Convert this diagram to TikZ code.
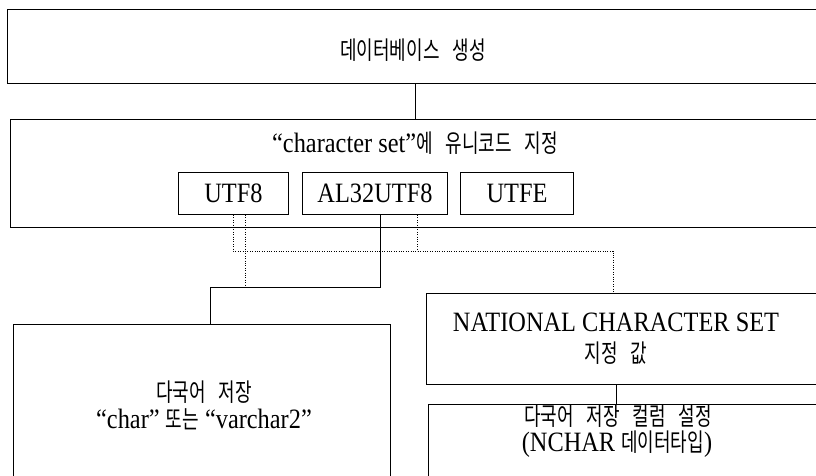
\documentclass[tikz,border=0pt]{standalone}
\usepackage{fontspec}
\setmainfont{Liberation Serif}
\newfontfamily\korfont[FakeStretch=0.72,WordSpace=3.2]{Noto Sans CJK KR}
\newfontfamily\latfont[FakeStretch=0.87]{Liberation Serif}
\newcommand\KR[1]{{\fontsize{25}{28}\selectfont\korfont #1}}
\newcommand\LT[1]{{\fontsize{28}{31}\selectfont\latfont #1}}
\begin{document}
\begin{tikzpicture}[x=1pt,y=-1pt,
  box/.style={draw, line width=1pt, inner sep=0pt, anchor=north west},
  txt/.style={inner sep=0pt, align=center},
  solidline/.style={line width=1pt},
  dotline/.style={line width=0.8pt, dash pattern=on 1pt off 1.4pt}]
\useasboundingbox[fill=white] (0,0) rectangle (816,476);

% boxes
\node[box, minimum width=813pt, minimum height=73.5pt] (top) at (7,9.5) {};
\node[box, minimum width=810pt, minimum height=108pt] (db2) at (10,119) {};
\node[box, minimum width=110pt, minimum height=42pt] (utf8) at (178,172) {};
\node[box, minimum width=145pt, minimum height=42pt] (al32) at (302,172) {};
\node[box, minimum width=113pt, minimum height=42pt] (utfe) at (460,172) {};
\node[box, minimum width=377pt, minimum height=170pt] (left) at (13,324) {};
\node[box, minimum width=394pt, minimum height=91pt] (nat) at (426,293) {};
\node[box, minimum width=392pt, minimum height=90pt] (nchar) at (428,404) {};

% texts
\node[txt] (toptext) at (413,50) {\KR{데이터베이스 생성}};
\node[txt] (db2text) at (415,143) {\LT{“character set”}\KR{에 유니코드 지정}};
\node[txt] at (utf8.center) {\LT{UTF8}};
\node[txt] at (al32.center) {\LT{AL32UTF8}};
\node[txt] at (utfe.center) {\LT{UTFE}};
\node[txt] (lefta) at (204,392) {\KR{다국어 저장}};
\node[txt] (leftb) at (204,419) {\LT{“char” }\KR{또는}\LT{ “varchar2”}};
\node[txt] (nata) at (616,322) {\LT{NATIONAL CHARACTER SET}};
\node[txt] (natb) at (616,353) {\KR{지정 값}};
\node[txt] (nchara) at (618,416) {\KR{다국어 저장 컬럼 설정}};
\node[txt] (ncharb) at (617,444) {\LT{(NCHAR }\KR{데이터타입}\LT{)}};

% helper coordinates
\coordinate (xa) at (415,0);
\coordinate (d1) at (233,251);
\coordinate (d2) at (417,251);
\coordinate (d3) at (245,287);
\coordinate (xn) at (613,0);
\coordinate (s1) at (380,287);
\coordinate (xl) at (210,0);
\coordinate (xm) at (616,0);

% connectors
\draw[solidline] (top.south -| xa) -- (db2.north -| xa);
\draw[dotline] (utf8.south -| d1) -- (d1) -| (nat.north -| xn);
\draw[dotline] (al32.south -| d2) -- (d2);
\draw[dotline] (utf8.south -| d3) -- (d3);
\draw[solidline] (al32.south -| s1) -- (s1) -| (left.north -| xl);
\draw[solidline] (nat.south -| xm) -- (nchar.north -| xm);
\end{tikzpicture}
\end{document}
